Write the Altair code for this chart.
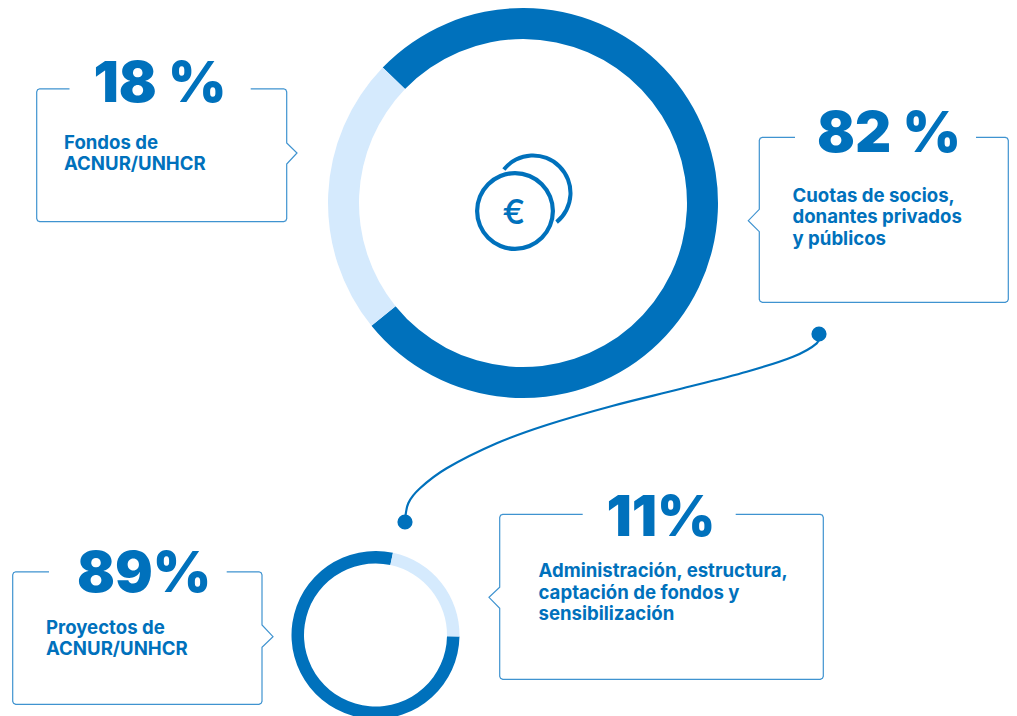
import altair as alt
import pandas as pd

BLUE = "#0071bc"
LIGHT = "#d5eafd"
FRAME = "#3f93d0"
FONT = "Inter"

# ring segments as drawn in the picture (start/end in degrees clockwise from the top)
big_start = [-46, 231]
big_end = [231, 314]
big_color = [BLUE, LIGHT]
small_start = [91, 12]
small_end = [372, 91]
small_color = [BLUE, LIGHT]

# frames: left, right, top, bottom, gap left, gap right, notch side, notch top, notch tip x, notch tip y, notch bottom
frames = [
    (36.7, 286.7, 88.8, 221.6, 69.5, 250.7, "right", 143, 297, 153, 164),
    (759.3, 1008.3, 137.4, 302.3, 795, 976, "left", 209.3, 748.3, 220.7, 231.7),
    (12.7, 262, 571.8, 704.3, 49, 226.7, "right", 625, 273, 636.7, 647.3),
    (499.7, 823.3, 514.4, 679.3, 582.7, 735.7, "left", 587.3, 489, 597.3, 608.3),
]

number_text = ["18 %", "82 %", "89%", "11%"]
number_x = [160, 889, 144, 661]
number_y = [102, 151.7, 592, 535.7]

label_text = ["Fondos de", "ACNUR/UNHCR", "Cuotas de socios,", "donantes privados", "y públicos",
              "Proyectos de", "ACNUR/UNHCR", "Administración, estructura,",
              "captación de fondos y", "sensibilización"]
label_x = [64, 64, 792.5, 792.5, 792.5, 46, 46, 538.5, 538.5, 538.5]
label_y = [149, 170, 201.5, 223, 245, 634, 655, 577, 598.5, 620]

curve_x = [819, 816.7, 793, 746.7, 680, 613, 546.7, 496.7, 446.7, 420, 408.3, 405]
curve_y = [334, 343.3, 356.7, 371.7, 389, 405.7, 425, 443.3, 468.3, 488.3, 503.3, 522]
dot_x = [819, 405]
dot_y = [334, 522]

W, H = 1001, 708
X = alt.X("x:Q", scale=alt.Scale(domain=[8, 8 + W]), axis=None)
Y = alt.Y("y:Q", scale=alt.Scale(domain=[8, 8 + H], reverse=True), axis=None)
TH = alt.Theta("a:Q", scale=alt.Scale(domain=[0, 360], range=[0, 6.283185307]))


def ring(cx, cy, starts, ends, colors, r_out, r_in):
    df = pd.DataFrame({"x": cx, "y": cy, "a": starts, "b": ends, "c": colors})
    return alt.Chart(df).mark_arc(radius=r_out, radius2=r_in, stroke=None).encode(
        x=X, y=Y, theta=TH, theta2="b:Q", color=alt.Color("c:N", scale=None)
    )


def frame_path(i, f):
    l, r, t, b, g0, g1, side, n0, nx, ny, n1 = f
    c = 3
    m = 0.9
    pts = [(g1, t), (r - c, t), (r - m, t + m), (r, t + c)]
    if side == "right":
        pts += [(r, n0), (nx, ny), (r, n1)]
    pts += [(r, b - c), (r - m, b - m), (r - c, b), (l + c, b), (l + m, b - m), (l, b - c)]
    if side == "left":
        pts += [(l, n1), (nx, ny), (l, n0)]
    pts += [(l, t + c), (l + m, t + m), (l + c, t), (g0, t)]
    return [{"x": p[0], "y": p[1], "k": i, "o": j} for j, p in enumerate(pts)]


rows = []
for i, f in enumerate(frames):
    rows += frame_path(i, f)
frame_layer = alt.Chart(pd.DataFrame(rows)).mark_line(color=FRAME, strokeWidth=1.2).encode(
    x=X, y=Y, detail="k:N", order="o:Q"
)

curve_layer = alt.Chart(pd.DataFrame({"x": curve_x, "y": curve_y, "o": range(len(curve_x))})).mark_line(
    color=BLUE, strokeWidth=2.2, interpolate="cardinal"
).encode(x=X, y=Y, order="o:Q")

dot_layer = alt.Chart(pd.DataFrame({"x": dot_x, "y": dot_y})).mark_circle(
    color=BLUE, size=230, opacity=1
).encode(x=X, y=Y)

number_layer = alt.Chart(pd.DataFrame({"x": number_x, "y": number_y, "t": number_text})).mark_text(
    font=FONT, fontWeight=900, fontSize=56, color=BLUE, align="center", baseline="alphabetic"
).encode(x=X, y=Y, text="t:N")

label_layer = alt.Chart(pd.DataFrame({"x": label_x, "y": label_y, "t": label_text})).mark_text(
    font=FONT, fontWeight=700, fontSize=18.6, color=BLUE, align="left", baseline="alphabetic"
).encode(x=X, y=Y, text="t:N")

euro_layer = alt.Chart(pd.DataFrame({"x": [514], "y": [224], "t": ["€"]})).mark_text(
    font=FONT, fontWeight=500, fontSize=34, color=BLUE, align="center", baseline="alphabetic"
).encode(x=X, y=Y, text="t:N")

chart = alt.layer(
    frame_layer,
    curve_layer,
    dot_layer,
    ring(523, 203, big_start, big_end, big_color, 195, 164),
    ring(375.5, 635, small_start, small_end, small_color, 84, 71.5),
    ring(515, 211, [0], [360], [BLUE], 40, 35.8),
    ring(533, 193, [-51], [141], [BLUE], 39.5, 35.5),
    euro_layer,
    number_layer,
    label_layer,
).properties(
    width=W, height=H, background="white", padding=0,
    autosize=alt.AutoSizeParams(type="none"),
).configure_view(stroke=None)

chart.save("out.html", embed_options={"renderer": "svg", "actions": False})
